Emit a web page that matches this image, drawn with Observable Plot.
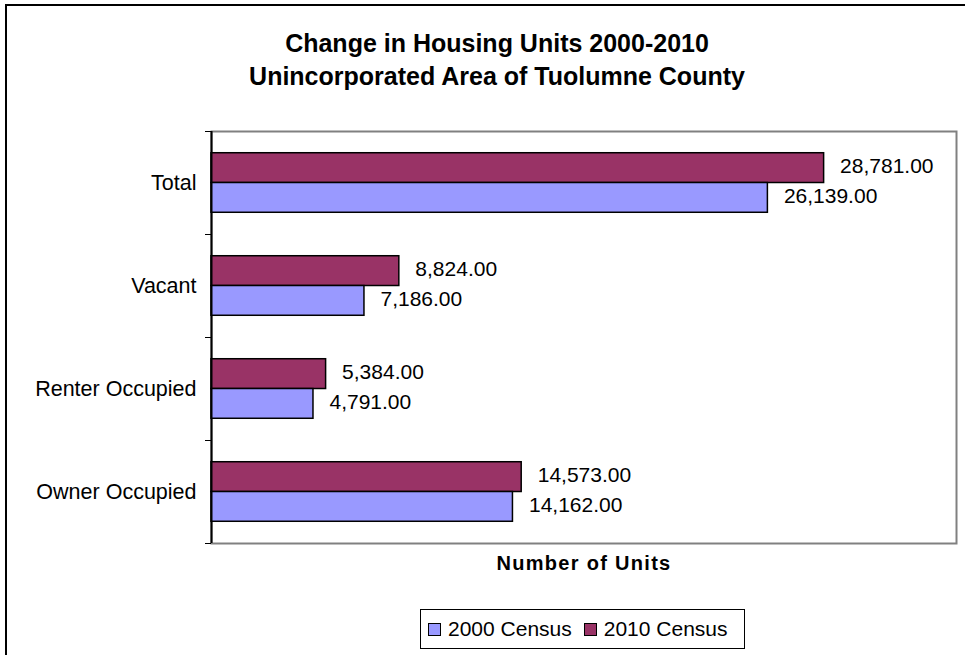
<!DOCTYPE html>
<html>
<head>
<meta charset="utf-8">
<script src="https://cdn.jsdelivr.net/npm/d3@7"></script>
<script src="https://cdn.jsdelivr.net/npm/@observablehq/plot@0.6"></script>
<style>
  html, body { margin: 0; padding: 0; background: #fff; }
  #wrap { position: relative; width: 965px; height: 655px; overflow: hidden; font-family: "Liberation Sans", Arial, sans-serif; color: #000; }
  #border { position: absolute; left: 5px; top: 4px; width: 1000px; height: 700px; border-left: 2px solid #000; border-top: 2px solid #000; }
  #title { position: absolute; left: 7px; top: 27px; width: 980px; text-align: center; font-weight: bold; font-size: 25px; line-height: 33px; }
  #chart { position: absolute; left: 0; top: 110px; }
  #chart svg { font-family: "Liberation Sans", Arial, sans-serif; color: #000; }
  #legend { position: absolute; left: 420px; top: 609px; width: 325px; height: 40px; border: 1px solid #000; box-sizing: border-box; display: flex; align-items: center; padding-left: 7px; font-size: 21px; }
  .item { display: flex; align-items: center; margin-right: 12px; }
  .sw { width: 11px; height: 11px; border: 1px solid #000; margin-right: 7px; }
</style>
</head>
<body>
<div id="wrap">
  <div id="border"></div>
  <div id="title">Change in Housing Units 2000-2010<br>Unincorporated Area of Tuolumne County</div>
  <div id="chart"></div>
  <div id="legend"></div>
</div>
<script>
const categories = ["Total", "Vacant", "Renter Occupied", "Owner Occupied"];
const series = ["2000 Census", "2010 Census"];
const values2000 = [26139, 7186, 4791, 14162];
const values2010 = [28781, 8824, 5384, 14573];
const colors = ["#9999FF", "#993366"];
const axisTitle = "Number of Units";

const data = categories.flatMap((c, i) => [
  {category: c, index: i, series: "2010 Census", value: values2010[i]},
  {category: c, index: i, series: "2000 Census", value: values2000[i]}
]);

// sub-band within each category slot (2010 on top, 2000 below)
const sub = d3.scaleBand().domain(["2010 Census", "2000 Census"]).range([0, 1]).paddingInner(0).paddingOuter(0.73);
const y1 = d => d.index + sub(d.series);
const y2 = d => d.index + sub(d.series) + sub.bandwidth();
const ym = d => d.index + sub(d.series) + sub.bandwidth() / 2;
const fmt = d3.format(",.2f");

const boundaries = d3.range(categories.length + 1);
const centers = categories.map((c, i) => i + 0.5);

const chart = Plot.plot({
  width: 965,
  height: 480,
  marginLeft: 211,
  marginRight: 9,
  marginTop: 21,
  marginBottom: 47,
  x: {domain: [0, 35000], axis: null},
  y: {domain: [0, categories.length], reverse: true, label: null},
  color: {domain: series, range: colors},
  marks: [
    Plot.frame({stroke: "#808080", strokeWidth: 2}),
    Plot.rectX(data, {x1: d => 0, x2: "value", y1, y2, fill: "series", stroke: "#000", strokeWidth: 1.5}),
    Plot.ruleX([0], {stroke: "#000", strokeWidth: 2}),
    Plot.axisY({ticks: boundaries, tickSize: 6, tickFormat: () => "", stroke: "#000", label: null}),
    Plot.axisY({ticks: centers, tickSize: 0, tickPadding: 15, tickFormat: t => categories[Math.floor(t)], fontSize: 21.5, fill: "#000", label: null}),
    Plot.text(data, {x: "value", y: ym, text: d => fmt(d.value), textAnchor: "start", dx: 16, dy: -2, fontSize: 21, fill: "#000"}),
    Plot.text([axisTitle], {text: d => d, frameAnchor: "bottom", dy: 26, fontSize: 20, fontWeight: "bold", fill: "#000"})
  ]
});
document.getElementById("chart").appendChild(chart);
d3.select(chart).selectAll("text").filter(function() { return this.textContent === axisTitle; })
  .style("letter-spacing", "1.3px");

const legend = document.getElementById("legend");
series.forEach((s, i) => {
  const item = document.createElement("div");
  item.className = "item";
  const sw = document.createElement("div");
  sw.className = "sw";
  sw.style.background = colors[i];
  const label = document.createElement("span");
  label.textContent = s;
  item.appendChild(sw);
  item.appendChild(label);
  legend.appendChild(item);
});
</script>
</body>
</html>
